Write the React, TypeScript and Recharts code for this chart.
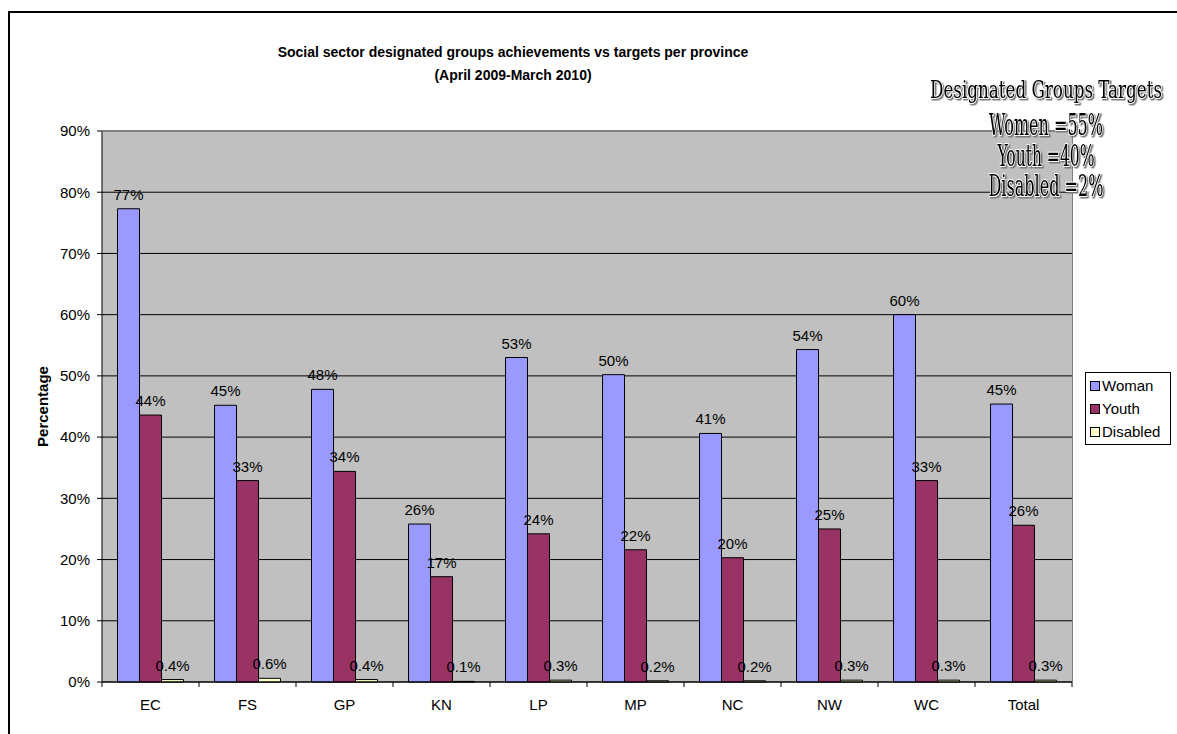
import React from 'react';
import { BarChart, Bar, XAxis, YAxis, CartesianGrid, Legend, LabelList } from 'recharts';

const provinces = ['EC', 'FS', 'GP', 'KN', 'LP', 'MP', 'NC', 'NW', 'WC', 'Total'];
const womanPct = [77.3, 45.2, 47.8, 25.8, 53.0, 50.2, 40.6, 54.3, 60.0, 45.4];
const youthPct = [43.6, 32.9, 34.4, 17.2, 24.2, 21.6, 20.3, 25.0, 32.9, 25.6];
const disabledPct = [0.4, 0.6, 0.4, 0.1, 0.3, 0.2, 0.2, 0.3, 0.3, 0.3];
const yTicks = [0, 10, 20, 30, 40, 50, 60, 70, 80, 90];
const targetLines = ['Designated Groups Targets', 'Women =55%', 'Youth =40%', 'Disabled =2%'];

const series = [
  { key: 'Woman', color: '#9999FF', digits: 0 },
  { key: 'Youth', color: '#993366', digits: 0 },
  { key: 'Disabled', color: '#FFFFCC', digits: 1 },
];

const data = provinces.map((p, i) => ({
  province: p,
  Woman: womanPct[i],
  Youth: youthPct[i],
  Disabled: disabledPct[i],
}));

const FONT = '"Liberation Sans", Arial, sans-serif';
const W = 1177;
const H = 734;
const PLOT_LEFT = 102;
const PLOT_RIGHT = 1072;
const PLOT_TOP = 131;
const PLOT_BOTTOM = 682;
const BAND = (PLOT_RIGHT - PLOT_LEFT) / provinces.length;

// excel style ticks sit between the categories
const XTick = (props: any) => {
  const { x, y, payload, index } = props;
  const last = index === provinces.length - 1;
  return (
    <g>
      <line x1={x - BAND / 2} x2={x - BAND / 2} y1={y} y2={y + 5} stroke="#000" />
      {last && <line x1={x + BAND / 2} x2={x + BAND / 2} y1={y} y2={y + 5} stroke="#000" />}
      <text x={x} y={y + 28} textAnchor="middle" fontSize={15} fontFamily={FONT} fill="#000">
        {payload.value}
      </text>
    </g>
  );
};

const LegendBox = () => (
  <div
    style={{
      border: '1px solid #000',
      background: '#fff',
      padding: '1px 0 1px 4px',
      width: 86,
      boxSizing: 'border-box',
      fontFamily: FONT,
      fontSize: 15,
      color: '#000',
    }}
  >
    {series.map((s) => (
      <div key={s.key} style={{ display: 'flex', alignItems: 'center', height: 23 }}>
        <span
          style={{
            display: 'inline-block',
            width: 8,
            height: 8,
            background: s.color,
            border: '1px solid #000',
            marginRight: 2,
          }}
        />
        {s.key}
      </div>
    ))}
  </div>
);

const fmt = (digits: number) => (v: any) => `${Number(v).toFixed(digits)}%`;

export default function App() {
  const targetY = [98, 135, 166, 196];
  const targetSize = [25, 30, 30, 30];
  const targetLen = [232, 114, 97, 115];
  return (
    <div style={{ position: 'absolute', left: 0, top: 0, width: W, height: H, background: '#fff', overflow: 'hidden' }}>
      <BarChart
        width={W}
        height={H}
        data={data}
        margin={{ top: PLOT_TOP, right: W - PLOT_RIGHT, bottom: H - PLOT_BOTTOM - 30, left: PLOT_LEFT - 60 }}
        barCategoryGap="16%"
        barGap={0}
      >
        <CartesianGrid vertical={false} stroke="#000" fill="#C0C0C0" fillOpacity={1} />
        <XAxis
          dataKey="province"
          height={30}
          axisLine={{ stroke: '#000' }}
          tickLine={false}
          tickSize={0}
          tickMargin={0}
          interval={0}
          tick={<XTick />}
        />
        <YAxis
          width={60}
          domain={[0, 90]}
          ticks={yTicks}
          tickFormatter={(v) => `${v}%`}
          axisLine={{ stroke: '#000' }}
          tickLine={{ stroke: '#000' }}
          tickSize={5}
          tickMargin={7}
          tick={{ fontSize: 15, fill: '#000', fontFamily: FONT }}
        />
        <Legend
          layout="vertical"
          align="center"
          verticalAlign="middle"
          content={<LegendBox />}
          wrapperStyle={{ left: 1085, top: 372, width: 86 }}
        />
        {series.map((s) => (
          <Bar key={s.key} dataKey={s.key} fill={s.color} stroke="#000" strokeWidth={1} isAnimationActive={false}>
            <LabelList
              dataKey={s.key}
              position="top"
              offset={9}
              formatter={fmt(s.digits)}
              style={{ fontSize: 15, fill: '#000', fontFamily: FONT }}
            />
          </Bar>
        ))}
      </BarChart>
      <svg width={W} height={H} style={{ position: 'absolute', left: 0, top: 0, pointerEvents: 'none' }}>
        <defs>
          <filter id="outline" x="-10%" y="-30%" width="120%" height="160%">
            <feDropShadow dx={1.5} dy={1.5} stdDeviation={0.3} floodColor="#777" floodOpacity={1} />
          </filter>
        </defs>
        <line x1={9} x2={9} y1={11} y2={H} stroke="#000" strokeWidth={2} />
        <line x1={8} x2={W} y1={12} y2={12} stroke="#000" strokeWidth={2} />
        <line x1={PLOT_LEFT} x2={PLOT_RIGHT} y1={PLOT_TOP + 0.5} y2={PLOT_TOP + 0.5} stroke="#808080" />
        <line x1={PLOT_RIGHT + 0.5} x2={PLOT_RIGHT + 0.5} y1={PLOT_TOP} y2={PLOT_BOTTOM} stroke="#808080" />
        <text x={513} y={57} textAnchor="middle" fontFamily={FONT} fontWeight="bold" fontSize={14}>
          Social sector designated groups achievements vs targets per province
        </text>
        <text x={513} y={80} textAnchor="middle" fontFamily={FONT} fontWeight="bold" fontSize={14}>
          (April 2009-March 2010)
        </text>
        <text
          x={0}
          y={0}
          transform={`translate(${48}, ${(PLOT_TOP + PLOT_BOTTOM) / 2}) rotate(-90)`}
          textAnchor="middle"
          fontFamily={FONT}
          fontWeight="bold"
          fontSize={15}
        >
          Percentage
        </text>
        {targetLines.map((t, i) => (
          <text
            key={t}
            x={1046}
            y={targetY[i]}
            textAnchor="middle"
            textLength={targetLen[i]}
            lengthAdjust="spacingAndGlyphs"
            fontFamily='"DejaVu Serif Condensed", "Liberation Serif", serif'
            fontSize={targetSize[i]}
            fill="#000"
            stroke="#fff"
            strokeWidth={2}
            paintOrder="stroke"
            filter="url(#outline)"
          >
            {t}
          </text>
        ))}
      </svg>
    </div>
  );
}
